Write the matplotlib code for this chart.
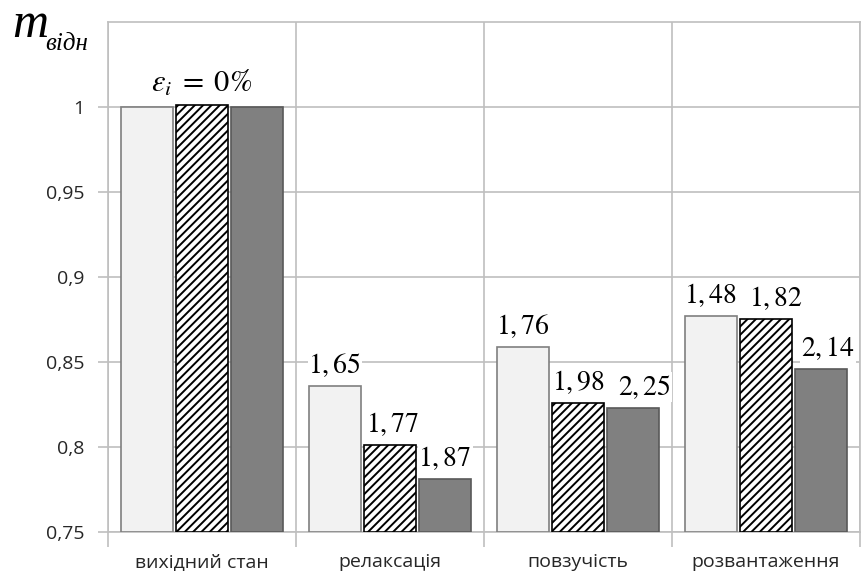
import matplotlib

matplotlib.use("Agg")
import matplotlib.pyplot as plt
import numpy as np

categories = ["вихідний стан", "релаксація", "повзучість", "розвантаження"]
light_vals = [1.000, 0.836, 0.859, 0.877]
hatch_vals = [1.001, 0.801, 0.826, 0.875]
dark_vals = [1.000, 0.781, 0.823, 0.846]
light_labels = [None, "1,65", "1,76", "1,48"]
hatch_labels = [None, "1,77", "1,98", "1,82"]
dark_labels = [None, "1,87", "2,25", "2,14"]
yticks = [0.75, 0.8, 0.85, 0.9, 0.95, 1.0]
ytick_labels = ["0,75", "0,8", "0,85", "0,9", "0,95", "1"]

plt.rcParams["mathtext.fontset"] = "stix"
plt.rcParams["hatch.linewidth"] = 1.4

fig = plt.figure(figsize=(8.61, 5.71), dpi=100)
ax = fig.add_axes([0.1254, 0.0683, 0.8735, 0.8932])

x = np.arange(len(categories))
w = 0.28
step = 0.293
grid_c = "#bfbfbf"
txt_c = "#262626"
sans = ["Open Sans", "DejaVu Sans"]

# small horizontal nudges (points) of the value labels, as placed in the original
nudges = [[0, 0, 0, 0], [0, 2, 0, 7], [0, 0, 8, 5]]

series = [
    (light_vals, light_labels, dict(color="#f2f2f2", edgecolor="#7f7f7f")),
    (hatch_vals, hatch_labels, dict(color="white", edgecolor="black", hatch="////")),
    (dark_vals, dark_labels, dict(color="#808080", edgecolor="#595959")),
]
for k, (vals, labels, style) in enumerate(series):
    pos = x + (k - 1) * step
    ax.bar(pos, np.array(vals) - 0.75, width=w, bottom=0.75, linewidth=1.2, zorder=3, **style)
    for px, v, lab, dx in zip(pos, vals, labels, nudges[k]):
        if lab is None:
            continue
        ax.annotate(f"${lab}$", (px, v), xytext=(dx, 5), textcoords="offset points",
                    ha="center", va="bottom", fontsize=20, zorder=5,
                    bbox=dict(facecolor="white", edgecolor="none", pad=0.5))

ax.set_xlim(-0.5, 3.5)
ax.set_ylim(0.75, 1.05)
ax.set_yticks(yticks)
ax.set_yticklabels(ytick_labels, fontsize=14, family=sans, color=txt_c)
ax.set_xticks(x)
ax.set_xticklabels(categories, fontsize=14, family=sans, color=txt_c)
ax.set_xticks(np.arange(-0.5, 4.0, 1.0), minor=True)
ax.tick_params(axis="x", which="major", length=0, pad=15)
ax.tick_params(axis="x", which="minor", length=11, color=grid_c, width=1.2)
ax.tick_params(axis="y", length=7, color=grid_c, width=1.2, pad=10)

ax.grid(True, axis="y", color=grid_c, linewidth=1.2, zorder=0)
ax.grid(True, axis="x", which="minor", color=grid_c, linewidth=1.2, zorder=0)
ax.set_axisbelow(True)
for sp in ax.spines.values():
    sp.set_color(grid_c)
    sp.set_linewidth(1.2)

ax.text(0.0, 1.014, r"$\varepsilon_i\; = \;0\%$", ha="center", va="center", fontsize=22)

fig.text(0.014, 0.935, "m", fontsize=36, style="italic", family="Liberation Serif", ha="left", va="baseline")
fig.text(0.053, 0.912, "відн", fontsize=18, style="italic", family="Liberation Serif", ha="left", va="baseline")

fig.savefig("out.png", dpi=100)
